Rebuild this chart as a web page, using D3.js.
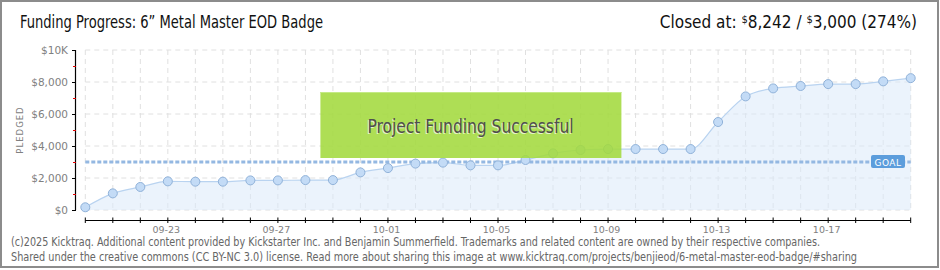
<!DOCTYPE html>
<html><head><meta charset="utf-8">
<script src="https://cdn.jsdelivr.net/npm/d3@7"></script>
<style>body{margin:0;background:#fff}svg{display:block}</style>
</head><body><svg id="c" width="940" height="270"></svg>
<script>
const dates = ["09-20","09-21","09-22","09-23","09-24","09-25","09-26","09-27","09-28","09-29","09-30",
"10-01","10-02","10-03","10-04","10-05","10-06","10-07","10-08","10-09","10-10","10-11","10-12","10-13",
"10-14","10-15","10-16","10-17","10-18","10-19","10-20"];
const pledged = [170,1040,1440,1790,1770,1770,1850,1850,1870,1870,2350,2620,2900,2960,2790,2790,3125,3540,3750,3810,
3810,3810,3810,5500,7100,7600,7750,7870,7870,8040,8242];
const goal = 3000;
const yTicks = [0,2000,4000,6000,8000,10000];
const yTickLabels = ["$0","$2,000","$4,000","$6,000","$8,000","$10K"];
const yMinor = [1000,3000,5000,7000,9000];
const xLabelDates = ["09-23","09-27","10-01","10-05","10-09","10-13","10-17"];
const title = "Funding Progress: 6\u201D Metal Master EOD Badge";
const footer = ["(c)2025 Kicktraq. Additional content provided by Kickstarter Inc. and Benjamin Summerfield. Trademarks and related content are owned by their respective companies.",
"Shared under the creative commons (CC BY-NC 3.0) license. Read more about sharing this image at www.kicktraq.com/projects/benjieod/6-metal-master-eod-badge/#sharing"];

const svg = d3.select("#c");
const font = "'Liberation Sans Narrow','DejaVu Sans Condensed','Liberation Sans',sans-serif";
const x = d3.scalePoint().domain(dates).range([85.3, 910.7]);
const y = d3.scaleLinear().domain([0,10000]).range([210,50]);
const x0 = x(dates[0]), x1 = x(dates[dates.length-1]);

// frame
svg.append("rect").attr("x",1).attr("y",1).attr("width",937).attr("height",266)
  .attr("fill","#fff").attr("stroke","#8c8c8c").attr("stroke-width",2);

// grid
const g = svg.append("g");
g.selectAll(".vg").data(dates).join("line")
  .attr("x1",d=>x(d)).attr("x2",d=>x(d)).attr("y1",y(10000)).attr("y2",y(0))
  .attr("stroke","#e0e0e0").attr("stroke-dasharray","5,4");
g.selectAll(".hg").data(yTicks).join("line")
  .attr("x1",x0).attr("x2",x1).attr("y1",d=>y(d)).attr("y2",d=>y(d))
  .attr("stroke","#e0e0e0").attr("stroke-dasharray","5,4");

// area
const pts = dates.map((d,i)=>[d,pledged[i]]);
svg.append("path").datum(pts)
  .attr("d", d3.area().x(d=>x(d[0])).y0(y(0)).y1(d=>y(d[1])).curve(d3.curveMonotoneX))
  .attr("fill","#dbe9fa").attr("fill-opacity",0.55);
svg.append("path").datum(pts)
  .attr("d", d3.line().x(d=>x(d[0])).y(d=>y(d[1])).curve(d3.curveMonotoneX))
  .attr("fill","none").attr("stroke","#b9d3f0").attr("stroke-width",1.2);

// goal line
svg.append("line").attr("x1",x0).attr("x2",x1).attr("y1",y(goal)).attr("y2",y(goal))
  .attr("stroke","#94b8e2").attr("stroke-width",3).attr("stroke-dasharray","4,2");

// points
svg.selectAll(".pt").data(pts).join("circle")
  .attr("cx",d=>x(d[0])).attr("cy",d=>y(d[1])).attr("r",4.5)
  .attr("fill","#c3dbf6").attr("stroke","#90b2d9").attr("stroke-width",1);

// goal label
svg.append("rect").attr("x",871).attr("y",155).attr("width",34).attr("height",13).attr("rx",2)
  .attr("fill","#5c9ddc");
svg.append("text").attr("x",888).attr("y",165.5).attr("text-anchor","middle")
  .attr("font-family","'DejaVu Sans',sans-serif").attr("font-size",9).attr("fill","#fff")
  .attr("letter-spacing",0.5).text("GOAL");

// green success box (over the points)
svg.append("rect").attr("x",x(dates[8])+15).attr("y",92).attr("width",301).attr("height",66)
  .attr("fill","#a3da3e").attr("fill-opacity",0.88);
svg.append("line").attr("x1",x(dates[8])+15).attr("x2",x(dates[8])+316).attr("y1",92.5).attr("y2",92.5)
  .attr("stroke","#c4ea86");
svg.append("text").attr("x",469.5).attr("y",133.5).attr("text-anchor","middle")
  .attr("font-family",font).attr("font-size",20).attr("fill","#ffffff").attr("fill-opacity",0.7)
  .attr("textLength",206).attr("lengthAdjust","spacingAndGlyphs").text("Project Funding Successful");
svg.append("text").attr("x",470.5).attr("y",132.5).attr("text-anchor","middle")
  .attr("font-family",font).attr("font-size",20).attr("fill","#4f4f4f")
  .attr("textLength",206).attr("lengthAdjust","spacingAndGlyphs").text("Project Funding Successful");

// y axis
svg.append("line").attr("x1",75.5).attr("x2",75.5).attr("y1",y(10000)).attr("y2",y(0))
  .attr("stroke","#000").attr("stroke-width",1.2);
svg.selectAll(".yt").data(yTicks).join("line")
  .attr("x1",72).attr("x2",76).attr("y1",d=>y(d)+0.5).attr("y2",d=>y(d)+0.5).attr("stroke","#000");
svg.selectAll(".ym").data(yMinor).join("line")
  .attr("x1",73).attr("x2",76).attr("y1",d=>y(d)+0.5).attr("y2",d=>y(d)+0.5).attr("stroke","#e00000");
svg.selectAll(".yl").data(yTicks).join("text")
  .attr("x",68).attr("y",d=>y(d)+4).attr("text-anchor","end")
  .attr("font-family","'DejaVu Sans',sans-serif").attr("font-size",10.5).attr("fill","#808080")
  .text((d,i)=>yTickLabels[i]);
svg.append("text").attr("transform","translate(23,130) rotate(-90)").attr("text-anchor","middle")
  .attr("font-family","'DejaVu Sans',sans-serif").attr("font-size",8.5).attr("fill","#808080")
  .attr("letter-spacing",1).text("PLEDGED");

// x axis
svg.append("line").attr("x1",x0).attr("x2",x1).attr("y1",220.5).attr("y2",220.5)
  .attr("stroke","#000").attr("stroke-width",1.2);
svg.selectAll(".xt").data(dates).join("line")
  .attr("x1",d=>x(d)).attr("x2",d=>x(d)).attr("y1",217.5).attr("y2",223).attr("stroke","#000");
svg.selectAll(".xl").data(xLabelDates).join("text")
  .attr("x",d=>x(d)-1.5).attr("y",233).attr("text-anchor","middle")
  .attr("font-family","'DejaVu Sans',sans-serif").attr("font-size",9.5).attr("fill","#808080")
  .text(d=>d);

// title
svg.append("text").attr("x",20).attr("y",28).attr("font-family",font).attr("font-size",17)
  .attr("fill","#111").attr("textLength",303).attr("lengthAdjust","spacingAndGlyphs").text(title);

// closed at
const ct = svg.append("text").attr("x",917).attr("y",28).attr("text-anchor","end")
  .attr("font-family",font).attr("font-size",17).attr("fill","#111");
ct.append("tspan").text("Closed at:  ");
ct.append("tspan").attr("font-size",11).attr("dy",-5).text("$");
ct.append("tspan").attr("dy",5).text("8,242 /  ");
ct.append("tspan").attr("font-size",11).attr("dy",-5).text("$");
ct.append("tspan").attr("dy",5).text("3,000 (274%)");

// footer
footer.forEach((t,i)=>{
  svg.append("text").attr("x",11).attr("y",246+i*15).attr("font-family",font).attr("font-size",11.5)
    .attr("fill","#666").attr("textLength",i===0?809:846).attr("lengthAdjust","spacingAndGlyphs").text(t);
});
</script></body></html>
